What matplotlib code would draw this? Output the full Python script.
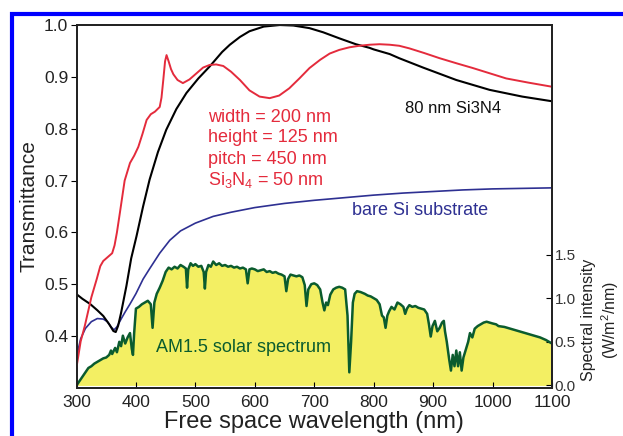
import matplotlib
matplotlib.use("Agg")
import matplotlib.pyplot as plt
from matplotlib.patches import Rectangle

plt.rcParams["font.family"] = ["Liberation Sans", "DejaVu Sans"]
plt.rcParams["mathtext.fontset"] = "custom"
plt.rcParams["mathtext.rm"] = "Liberation Sans"

# ---- data ----
# transmittance, 80 nm Si3N4 film (black)
wl_film = [300, 310, 323, 335, 345, 355, 362, 366, 370, 375, 384, 392, 401, 412, 423,
           437, 451, 468, 485, 505, 524, 545, 558, 575, 591, 615, 642, 665, 692, 715,
           743, 770, 793, 800, 827, 843, 883, 939, 995, 1050, 1100]
t_film = [0.481, 0.472, 0.462, 0.450, 0.439, 0.423, 0.410, 0.408, 0.420, 0.445, 0.497,
          0.550, 0.593, 0.650, 0.702, 0.755, 0.798, 0.838, 0.869, 0.897, 0.920, 0.948,
          0.962, 0.977, 0.988, 0.997, 1.000, 0.999, 0.994, 0.986, 0.974, 0.963, 0.956,
          0.953, 0.944, 0.936, 0.918, 0.894, 0.875, 0.862, 0.853]

# transmittance, nanostructure (red)
wl_nano = [300, 307, 314, 325, 334, 340, 345, 352, 360, 364, 368, 373, 381, 390, 397,
           404, 411, 418, 425, 432, 440, 443, 446, 449, 451.5, 455, 459, 463, 470, 479,
           490, 502, 513, 524, 535, 547, 560, 575, 591, 608, 625, 641, 658, 675, 692,
           710, 726, 742, 759, 776, 793, 810, 827, 843, 860, 885, 911, 940, 967, 995,
           1023, 1060, 1100]
t_nano = [0.340, 0.390, 0.420, 0.475, 0.510, 0.535, 0.545, 0.552, 0.560, 0.575, 0.600,
          0.638, 0.700, 0.734, 0.748, 0.765, 0.790, 0.817, 0.828, 0.833, 0.842, 0.860,
          0.894, 0.930, 0.942, 0.930, 0.915, 0.905, 0.894, 0.888, 0.895, 0.907, 0.918,
          0.923, 0.924, 0.921, 0.910, 0.894, 0.874, 0.862, 0.859, 0.864, 0.878, 0.897,
          0.917, 0.933, 0.945, 0.952, 0.957, 0.960, 0.962, 0.963, 0.962, 0.960, 0.955,
          0.946, 0.936, 0.926, 0.917, 0.907, 0.897, 0.889, 0.881]

# transmittance, bare Si (blue)
wl_bare = [300, 307, 315, 325, 335, 345, 352, 358, 363, 368, 375, 382, 390, 400, 412,
           423, 440, 457, 475, 500, 530, 560, 600, 650, 700, 750, 800, 850, 900, 950,
           1000, 1050, 1100]
t_bare = [0.360, 0.395, 0.415, 0.428, 0.434, 0.433, 0.428, 0.418, 0.412, 0.418, 0.433,
          0.447, 0.462, 0.482, 0.510, 0.530, 0.560, 0.585, 0.603, 0.618, 0.631, 0.639,
          0.648, 0.656, 0.662, 0.667, 0.672, 0.676, 0.679, 0.682, 0.684, 0.685, 0.686]

# AM1.5 spectral intensity (W/m2/nm)
wl_sun = [300, 305, 310, 315, 320, 325, 330, 335, 340, 345, 350, 355, 358, 360, 365, 368,
          372, 375, 378, 382, 386, 390, 393, 395, 397, 400, 405, 410, 415, 420, 425, 428,
          431, 435, 440, 445, 450, 455, 460, 465, 470, 475, 480, 484, 486, 488, 492, 496,
          500, 505, 510, 514, 516, 518, 522, 526, 530, 535, 540, 545, 550, 555, 560, 565,
          570, 575, 580, 585, 588, 591, 595, 600, 605, 610, 615, 620, 625, 630, 635, 640,
          645, 650, 653, 656, 660, 665, 670, 675, 680, 684, 687, 690, 695, 700, 705, 710,
          714, 717, 720, 723, 727, 732, 737, 742, 747, 752, 756, 759, 762, 765, 768, 772,
          778, 785, 790, 795, 800, 805, 810, 814, 817, 820, 823, 826, 830, 835, 840, 845,
          850, 853, 856, 860, 865, 870, 875, 880, 885, 890, 893, 896, 899, 903, 907, 911,
          915, 918, 920, 923, 927, 930, 933, 936, 939, 942, 945, 948, 951, 955, 959, 962,
          966, 970, 975, 980, 985, 990, 995, 1000, 1006, 1010, 1020, 1030, 1040, 1050,
          1060, 1070, 1080, 1090, 1095, 1100]
s_sun = [0.00, 0.05, 0.10, 0.15, 0.20, 0.22, 0.25, 0.27, 0.29, 0.31, 0.32, 0.35, 0.40,
         0.36, 0.43, 0.38, 0.50, 0.45, 0.57, 0.48, 0.55, 0.60, 0.42, 0.35, 0.60, 0.88,
         0.90, 0.93, 0.95, 0.97, 0.93, 0.66, 0.95, 1.05, 1.12, 1.20, 1.30, 1.35, 1.33,
         1.36, 1.34, 1.38, 1.36, 1.34, 1.12, 1.33, 1.40, 1.37, 1.39, 1.36, 1.37, 1.30,
         1.11, 1.30, 1.38, 1.36, 1.42, 1.38, 1.40, 1.37, 1.38, 1.36, 1.37, 1.35, 1.36,
         1.34, 1.35, 1.33, 1.17, 1.33, 1.34, 1.33, 1.31, 1.32, 1.33, 1.30, 1.31, 1.29,
         1.30, 1.28, 1.27, 1.25, 1.08, 1.22, 1.27, 1.26, 1.25, 1.26, 1.24, 1.15, 0.91,
         1.10, 1.16, 1.17, 1.15, 1.10, 0.95, 0.86, 0.95, 0.92, 1.04, 1.10, 1.12, 1.13,
         1.12, 1.10, 0.80, 0.15, 0.50, 0.95, 1.05, 1.08, 1.07, 1.05, 1.03, 1.02, 1.00,
         0.98, 0.93, 0.80, 0.78, 0.66, 0.80, 0.85, 0.90, 0.87, 0.95, 0.93, 0.90, 0.82,
         0.88, 0.92, 0.90, 0.91, 0.89, 0.88, 0.87, 0.82, 0.70, 0.56, 0.68, 0.74, 0.62,
         0.66, 0.72, 0.74, 0.62, 0.50, 0.30, 0.17, 0.35, 0.22, 0.40, 0.22, 0.38, 0.17,
         0.32, 0.41, 0.50, 0.60, 0.55, 0.65, 0.68, 0.70, 0.72, 0.73, 0.72, 0.71, 0.70,
         0.68, 0.67, 0.65, 0.63, 0.61, 0.59, 0.57, 0.55, 0.52, 0.50, 0.48]

x_ticks = [300, 400, 500, 600, 700, 800, 900, 1000, 1100]
t_ticks = [0.4, 0.5, 0.6, 0.7, 0.8, 0.9, 1.0]
s_ticks = [0.0, 0.5, 1.0, 1.5]

RED, NAVY, GREEN = "#e42b3c", "#2e3092", "#0b5c2e"

fig = plt.figure(figsize=(6.23, 4.36), dpi=100)
fig.patch.set_facecolor("white")
ax = fig.add_axes([0.1228, 0.110, 0.7632, 0.8326])
ax2 = ax.twinx()
ax.set_zorder(ax2.get_zorder() + 1)
ax.patch.set_visible(False)

# solar spectrum on the right axis
ax2.fill_between(wl_sun, 0, s_sun, color="#f3ef63", lw=0)
ax2.plot(wl_sun, s_sun, color=GREEN, lw=1.8)
ax2.set_ylim(-0.03, 4.13)
ax2.set_yticks(s_ticks)
ax2.set_yticklabels([f"{v:.1f}" for v in s_ticks], fontsize=11, color="#333333")
ax2.tick_params(axis="y", direction="in", length=4, pad=2)

# transmittance curves
ax.plot(wl_bare, t_bare, color=NAVY, lw=1.2)
ax.plot(wl_film, t_film, color="black", lw=1.5)
ax.plot(wl_nano, t_nano, color=RED, lw=1.4)

ax.set_xlim(300, 1100)
ax.set_ylim(0.30, 1.0)
ax.set_xticks(x_ticks)
ax.set_yticks(t_ticks)
ax.set_yticklabels([f"{v:.1f}" for v in t_ticks], fontsize=12.5, color="#222222")
ax.set_xticklabels([str(v) for v in x_ticks], fontsize=12.5, color="#222222")
ax.tick_params(axis="y", direction="out", length=4, pad=2)
ax.tick_params(axis="x", direction="in", length=4, pad=5)
ax.set_ylabel("Transmittance", fontsize=15, labelpad=4, color="#222222")
ax.set_xlabel("Free space wavelength (nm)", fontsize=17, labelpad=1, color="#222222")
for a in (ax, ax2):
    for s in a.spines.values():
        s.set_linewidth(1.3)
        s.set_color("#222222")

# annotations
ax.text(521, 0.821, "width = 200 nm", color=RED, fontsize=13, va="center")
ax.text(521, 0.783, "height = 125 nm", color=RED, fontsize=13, va="center")
ax.text(521, 0.741, "pitch = 450 nm", color=RED, fontsize=13, va="center")
ax.text(521, 0.702, r"Si$_3$N$_4$ = 50 nm", color=RED, fontsize=13, va="center")
ax.text(853, 0.840, "80 nm Si3N4", color="#111111", fontsize=12, va="center")
ax.text(763, 0.643, "bare Si substrate", color=NAVY, fontsize=13, va="center")
ax.text(433, 0.379, "AM1.5 solar spectrum", color=GREEN, fontsize=13, va="center")

fig.text(601 / 623, 1 - 320 / 436, "Spectral intensity\n(W/m$^2$/nm)", rotation=90,
         ha="center", va="center", multialignment="center", fontsize=11.5,
         linespacing=1.15, color="#222222")

# blue frame around the figure
fig.patches.append(Rectangle((12 / 623, -0.1), 1.2, 1.1 - 14 / 436, fill=False,
                             edgecolor="#0000ff", lw=3, transform=fig.transFigure,
                             figure=fig))

fig.savefig("out.png", dpi=100)
